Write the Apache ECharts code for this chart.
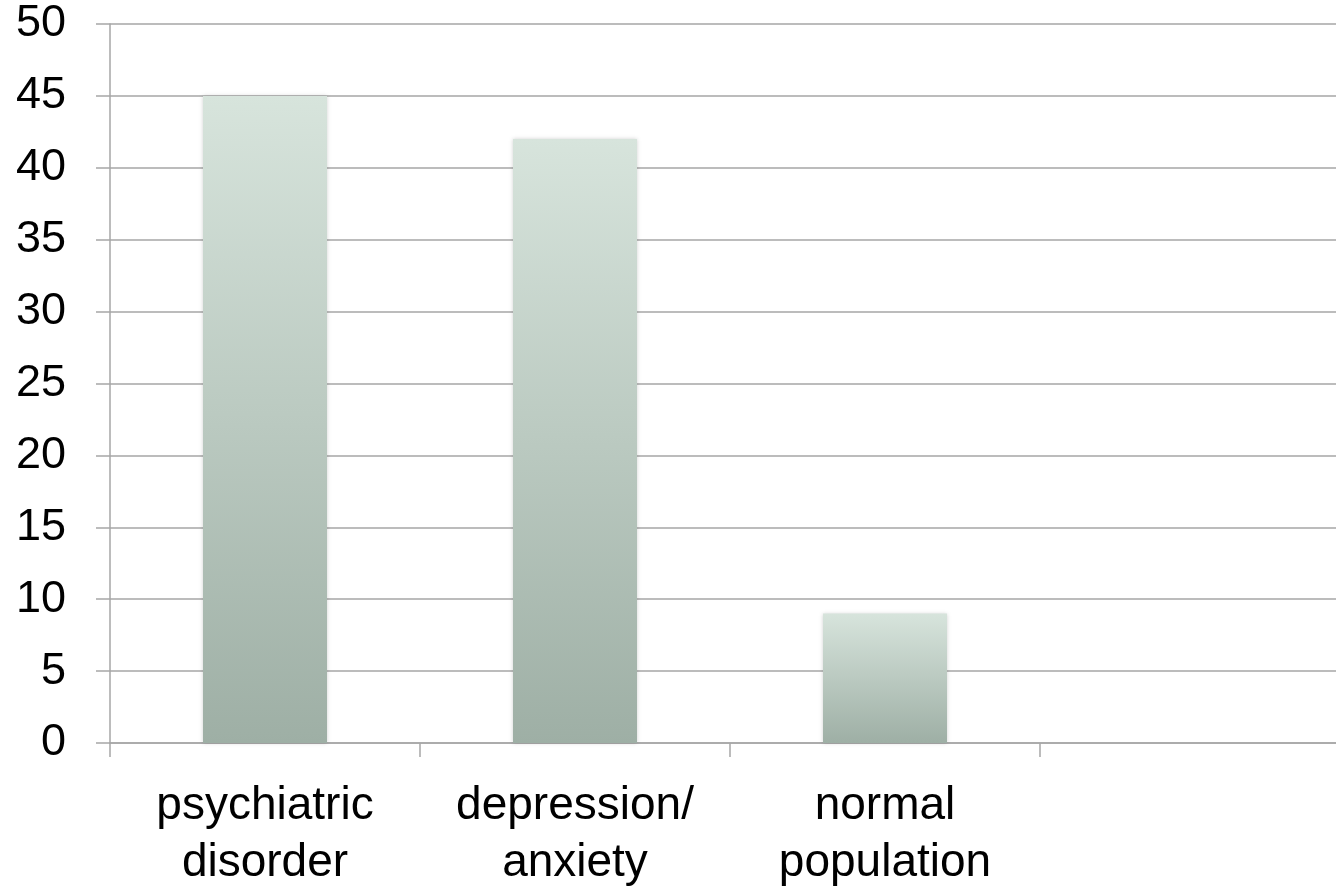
<!DOCTYPE html>
<html>
<head>
<meta charset="utf-8">
<script src="https://cdn.jsdelivr.net/npm/echarts@6/dist/echarts.min.js"></script>
<style>
  html, body { margin: 0; padding: 0; background: #fff; overflow: hidden; }
  #chart { width: 1336px; height: 886px; }
</style>
</head>
<body>
<div id="chart"></div>
<script>
// Categories (the fourth slot is intentionally empty)
const categories = ['psychiatric\ndisorder', 'depression/\nanxiety', 'normal\npopulation', ''];
const values = [45, 42, 9, null];
const yTicks = { min: 0, max: 50, interval: 5 };

const chart = echarts.init(document.getElementById('chart'), null, { renderer: 'canvas' });

const barFill = new echarts.graphic.LinearGradient(0, 0, 0, 1, [
  { offset: 0, color: '#d7e4dc' },
  { offset: 1, color: '#9eafa5' }
]);

const axisGray = { color: '#a6a6a6', width: 1.5 };

chart.setOption({
  animation: false,
  backgroundColor: '#ffffff',
  // plot runs a little past the right edge of the canvas
  grid: {
    left: 110, top: 24, width: 1240, height: 719,
    containLabel: false,
    outerBoundsMode: 'none'
  },
  xAxis: {
    type: 'category',
    data: categories,
    boundaryGap: true,
    axisLine: { show: true, lineStyle: axisGray },
    axisTick: { show: true, length: 14, lineStyle: axisGray },
    axisLabel: {
      color: '#000',
      fontFamily: 'Liberation Sans, Arial, sans-serif',
      fontSize: 46,
      lineHeight: 57,
      margin: 35,
      interval: 0
    },
    splitLine: { show: false }
  },
  yAxis: {
    type: 'value',
    min: yTicks.min,
    max: yTicks.max,
    interval: yTicks.interval,
    axisLine: { show: true, lineStyle: axisGray },
    axisTick: { show: true, length: 14, lineStyle: axisGray },
    axisLabel: {
      color: '#000',
      fontFamily: 'Liberation Sans, Arial, sans-serif',
      fontSize: 45,
      margin: 44
    },
    splitLine: { show: true, lineStyle: axisGray }
  },
  series: [{
    type: 'bar',
    data: values,
    barWidth: '40%',
    itemStyle: {
      color: barFill,
      shadowColor: 'rgba(0,0,0,0.18)',
      shadowBlur: 4,
      shadowOffsetX: 0,
      shadowOffsetY: 0
    }
  }]
});
</script>
</body>
</html>
